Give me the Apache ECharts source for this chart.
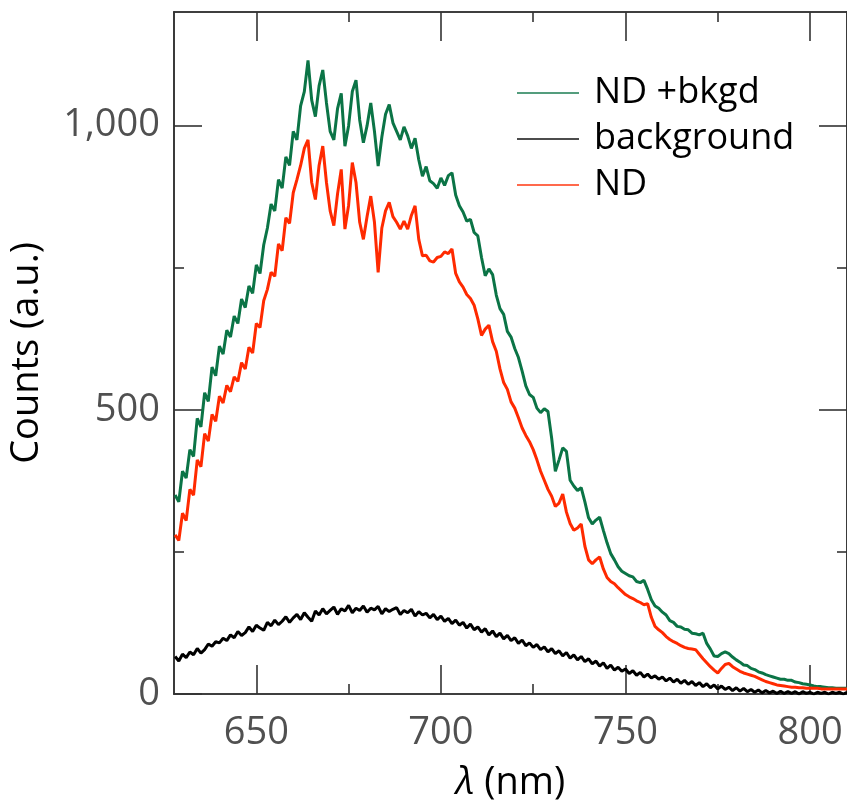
<!DOCTYPE html>
<html>
<head>
<meta charset="utf-8">
<script src="https://cdn.jsdelivr.net/npm/echarts@6/dist/echarts.min.js"></script>
<style>
  html, body { margin: 0; padding: 0; background: #fff; }
  #chart { width: 847px; height: 807px; }
</style>
</head>
<body>
<div id="chart"></div>
<script>
// Emission spectra, one sample per nm from 628 to 810 nm
const startNm = 628;

const ndPlusBkgd = [
  350, 338, 392, 380, 430, 418, 485, 470, 530, 515,
  575, 560, 612, 598, 640, 628, 665, 652, 695, 680,
  718, 705, 755, 740, 790, 820, 862, 850, 905, 890,
  945, 930, 990, 975, 1035, 1060, 1115, 1045, 1016, 1070,
  1098, 1040, 990, 975, 1030, 1057, 964, 1000, 1060, 1080,
  1010, 970, 1000, 1040, 990, 929, 980, 1020, 1037, 1005,
  990, 975, 998, 982, 960, 978, 940, 911, 928, 903,
  898, 890, 908, 895, 912, 917, 878, 859, 848, 832,
  835, 812, 806, 768, 736, 748, 738, 702, 678, 668,
  638, 628, 608, 592, 568, 542, 527, 522, 503, 495,
  502, 497, 450, 392, 412, 433, 427, 376, 366, 358,
  363, 338, 310, 299, 306, 311, 288, 266, 247, 236,
  224, 216, 212, 208, 206, 198, 196, 200, 184, 166,
  155, 151, 144, 139, 129, 126, 119, 118, 114, 113,
  107, 106, 104, 107, 89, 79, 67, 66, 71, 74,
  71, 65, 60, 56, 51, 50, 45, 43, 39, 37,
  34, 32, 30, 28, 26, 26, 24, 24, 21, 20,
  18, 17, 16, 14, 13, 13, 12, 11, 11, 10,
  10, 10, 10
];

const background = [
  66, 58, 70, 64, 74, 69, 80, 72, 78, 88,
  84, 92, 90, 98, 94, 104, 99, 110, 103, 108,
  118, 110, 121, 116, 112, 126, 120, 130, 122, 128,
  136, 126, 134, 140, 131, 143, 135, 128, 146, 139,
  150, 141, 147, 153, 140, 150, 146, 156, 143, 151,
  147, 155, 144, 151, 148, 154, 141, 150, 145, 149,
  152, 140, 147, 143, 149, 137, 145, 139, 142, 134,
  140, 131, 137, 128, 133, 124, 130, 121, 126, 116,
  123, 113, 118, 109, 115, 104, 111, 101, 107, 97,
  103, 94, 99, 89, 95, 85, 90, 82, 87, 78,
  83, 74, 80, 71, 76, 67, 73, 63, 69, 60,
  66, 57, 62, 53, 58, 49, 55, 45, 51, 42,
  47, 40, 44, 36, 41, 33, 38, 30, 35, 28,
  32, 26, 30, 23, 28, 21, 26, 19, 24, 17,
  22, 15, 20, 13, 18, 11, 16, 9, 14, 8,
  12, 6, 11, 5, 10, 4, 8, 3, 7, 2,
  6, 2, 5, 1, 5, 1, 4, 1, 4, 0,
  4, 1, 3, 0, 3, 1, 3, 0, 3, 1,
  3, 0, 3
];

const nd = [
  280, 270, 318, 305, 360, 350, 412, 400, 458, 445,
  492, 480, 524, 512, 543, 532, 558, 550, 583, 572,
  610, 600, 652, 645, 692, 712, 742, 735, 792, 780,
  838, 828, 882, 905, 930, 960, 975, 900, 870, 930,
  964, 900, 850, 824, 880, 923, 818, 860, 935, 900,
  830, 800, 840, 876, 830, 742, 820, 850, 865, 840,
  830, 818, 832, 818, 842, 859, 800, 771, 772, 762,
  760, 768, 770, 778, 775, 783, 740, 725, 716, 703,
  696, 684, 660, 631, 642, 649, 620, 603, 572, 548,
  536, 514, 503, 486, 468, 455, 444, 430, 412, 392,
  376, 360, 348, 330, 336, 352, 320, 300, 288, 292,
  299, 260, 236, 229, 236, 241, 220, 205, 198, 194,
  187, 181, 175, 171, 168, 164, 161, 157, 159, 135,
  119, 113, 108, 101, 96, 92, 89, 85, 82, 80,
  79, 78, 70, 62, 55, 48, 42, 37, 45, 52,
  54, 48, 44, 40, 37, 35, 33, 31, 28, 25,
  22, 20, 18, 16, 15, 14, 13, 12, 12, 11,
  11, 10, 10, 10, 10, 9, 9, 9, 9, 9,
  9, 9, 9
];

const xMajorTicks = [650, 700, 750, 800];
const xMinorTicks = [675, 725, 775];
const yMajorTicks = [0, 500, 1000];
const yMinorTicks = [250, 750];

const seriesNames = ['ND +bkgd', 'background', 'ND'];
const seriesColors = ['#0b7446', '#000000', '#ff2a00'];
const seriesWidths = [3, 3, 3];

const pairs = arr => arr.map((v, i) => [startNm + i, v]);

const FONT = '"Open Sans", "DejaVu Sans", sans-serif';
const AX = '#333333';
const X_MIN = 627.7, X_MAX = 810, Y_MIN = 0, Y_MAX = 1200;

function xAxisDef(position, ticks, len, withLabels) {
  return {
    type: 'value', position: position, min: X_MIN, max: X_MAX,
    axisLine: { show: true, onZero: false, lineStyle: { color: AX, width: 1.6 } },
    axisTick: { show: true, inside: true, length: len, customValues: ticks,
                lineStyle: { color: AX, width: 1.6 } },
    axisLabel: withLabels
      ? { show: true, customValues: ticks, margin: 20, color: '#505050',
          fontSize: 38, fontFamily: FONT }
      : { show: false },
    splitLine: { show: false }
  };
}

function yAxisDef(position, ticks, len, withLabels) {
  return {
    type: 'value', position: position, min: Y_MIN, max: Y_MAX,
    axisLine: { show: true, onZero: false, lineStyle: { color: AX, width: 1.6 } },
    axisTick: { show: true, inside: true, length: len, customValues: ticks,
                lineStyle: { color: AX, width: 1.6 } },
    axisLabel: withLabels
      ? { show: true, customValues: ticks, margin: 14, color: '#505050',
          fontSize: 38, fontFamily: FONT,
          formatter: v => v.toLocaleString('en-US') }
      : { show: false },
    splitLine: { show: false }
  };
}

const xAxes = [
  xAxisDef('bottom', xMajorTicks, 29, true),
  xAxisDef('bottom', xMinorTicks, 10, false),
  xAxisDef('top', xMajorTicks, 29, false),
  xAxisDef('top', xMinorTicks, 10, false)
];
xAxes[0].name = '{i|λ} (nm)';
xAxes[0].nameLocation = 'middle';
xAxes[0].nameGap = 70;
xAxes[0].nameTextStyle = {
  color: '#000', fontSize: 38, fontFamily: FONT,
  rich: { i: { fontStyle: 'italic', fontSize: 38, fontFamily: FONT, color: '#000' } }
};

const yAxes = [
  yAxisDef('left', yMajorTicks, 28, true),
  yAxisDef('left', yMinorTicks, 10, false),
  yAxisDef('right', yMajorTicks, 28, false),
  yAxisDef('right', yMinorTicks, 10, false)
];
yAxes[0].name = 'Counts (a.u.)';
yAxes[0].nameLocation = 'middle';
yAxes[0].nameGap = 128;
yAxes[0].nameTextStyle = { color: '#000', fontSize: 38, fontFamily: FONT };

const values = [ndPlusBkgd, background, nd];

const chart = echarts.init(document.getElementById('chart'), null, { renderer: 'canvas' });
chart.setOption({
  animation: false,
  backgroundColor: '#ffffff',
  grid: { left: 174, top: 12, width: 676, height: 686, containLabel: false },
  legend: {
    data: seriesNames,
    orient: 'vertical',
    left: 512, top: 70,
    icon: 'rect',
    itemWidth: 62, itemHeight: 2, itemGap: 10,
    itemStyle: { opacity: 0.7 },
    textStyle: { color: '#000', fontSize: 36, fontFamily: FONT, lineHeight: 36,
                 padding: [0, 0, 0, 10] }
  },
  xAxis: xAxes,
  yAxis: yAxes,
  series: values.map((arr, k) => ({
    name: seriesNames[k],
    type: 'line',
    data: pairs(arr),
    xAxisIndex: 0, yAxisIndex: 0,
    showSymbol: false, symbol: 'none',
    color: seriesColors[k],
    lineStyle: { color: seriesColors[k], width: seriesWidths[k] },
    z: k === 2 ? 4 : (k === 1 ? 3 : 2)
  }))
});
</script>
</body>
</html>
